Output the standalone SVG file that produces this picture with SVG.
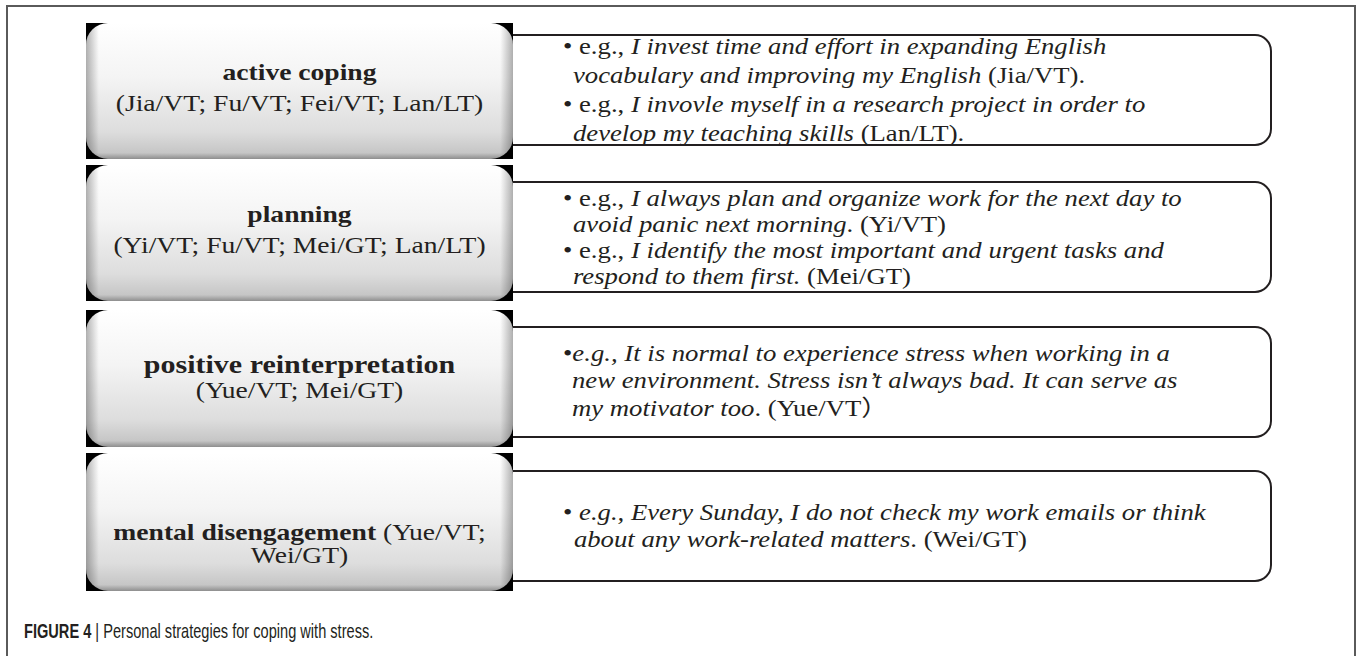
<svg xmlns="http://www.w3.org/2000/svg" width="1357" height="656" viewBox="0 0 1357 656">
<style>
 .frame{fill:none;stroke:#5a5a5a;stroke-width:2}
 .back{fill:#000}
 .lbox{fill:url(#gv)}
 .ledge{fill:url(#gh)}
 .rbox{fill:#fff;stroke:#231f20;stroke-width:2}
 .t{font-family:"Liberation Serif","Times New Roman","Noto Sans CJK SC",serif;fill:#231f20}
 .lt{font-size:23px}
 .rt{font-size:22.5px}
 .b{font-weight:bold}
 .i{font-style:italic}
 .cap{font-family:"Liberation Sans",Arial,sans-serif;font-size:20px;fill:#231f20}
</style>
<defs>
 <linearGradient id="gv" x1="0" y1="0" x2="0" y2="1">
  <stop offset="0" stop-color="#ffffff"/>
  <stop offset="0.4" stop-color="#f4f4f4"/>
  <stop offset="0.8" stop-color="#dddddd"/>
  <stop offset="0.955" stop-color="#c6c6c6"/>
  <stop offset="1" stop-color="#8e8e8e"/>
 </linearGradient>
 <linearGradient id="gh" x1="0" y1="0" x2="1" y2="0">
  <stop offset="0" stop-color="#000" stop-opacity="0.3"/>
  <stop offset="0.03" stop-color="#000" stop-opacity="0"/>
  <stop offset="0.97" stop-color="#000" stop-opacity="0"/>
  <stop offset="1" stop-color="#000" stop-opacity="0.3"/>
 </linearGradient>
</defs>
<rect class="frame" x="7" y="6" width="1348" height="700"/>
<g id="connectors"/>
<g id="r1">
 <rect class="rbox" x="470" y="35" width="801" height="110" rx="16"/>
 <g transform="translate(563,0) scale(1.187,1)">
  <text class="t rt" x="0" y="54">• e.g., <tspan class="i">I invest time and effort in expanding English</tspan></text>
  <text class="t rt" x="8.4" y="83"><tspan class="i">vocabulary and improving my English</tspan> (Jia/VT).</text>
  <text class="t rt" x="0" y="112">• e.g., <tspan class="i">I invovle myself in a research project in order to</tspan></text>
  <text class="t rt" x="8.4" y="141"><tspan class="i">develop my teaching skills</tspan> (Lan/LT).</text>
 </g>
</g>
<g id="r2">
 <rect class="rbox" x="470" y="182" width="801" height="110" rx="16"/>
 <g transform="translate(563,0) scale(1.187,1)">
  <text class="t rt" x="0" y="206">• e.g., <tspan class="i">I always plan and organize work for the next day to</tspan></text>
  <text class="t rt" x="8.4" y="232"><tspan class="i">avoid panic next morning</tspan>. (Yi/VT)</text>
  <text class="t rt" x="0" y="258">• e.g., <tspan class="i">I identify the most important and urgent tasks and</tspan></text>
  <text class="t rt" x="8.4" y="284"><tspan class="i">respond to them first.</tspan> (Mei/GT)</text>
 </g>
</g>
<g id="r3">
 <rect class="rbox" x="470" y="327" width="801" height="110" rx="16"/>
 <g transform="translate(563,0) scale(1.187,1)">
  <text class="t rt" x="0" y="361">•<tspan class="i">e.g., It is normal to experience stress when working in a</tspan></text>
  <text class="t rt" x="7.6" y="388"><tspan class="i">new environment. Stress isn’t always bad. It can serve as</tspan></text>
  <text class="t rt" x="7.6" y="416"><tspan class="i">my motivator too</tspan>. (Yue/VT）</text>
 </g>
</g>
<g id="r4">
 <rect class="rbox" x="470" y="471" width="801" height="110" rx="16"/>
 <g transform="translate(563,0) scale(1.187,1)">
  <text class="t rt" x="0" y="520">• <tspan class="i">e.g., Every Sunday, I do not check my work emails or think</tspan></text>
  <text class="t rt" x="9.2" y="547"><tspan class="i">about any work-related matters</tspan>. (Wei/GT)</text>
 </g>
</g>
<g id="n1">
 <rect class="back" x="86" y="23" width="427" height="136"/>
 <rect class="lbox" x="86" y="23" width="427" height="136" rx="22"/>
 <rect class="ledge" x="86" y="23" width="427" height="136" rx="22"/>
 <g transform="translate(299.5,0) scale(1.2,1)">
  <text class="t lt b" x="0" y="80" text-anchor="middle">active coping</text>
  <text class="t lt" x="0" y="111" text-anchor="middle">(Jia/VT; Fu/VT; Fei/VT; Lan/LT)</text>
 </g>
</g>
<g id="n2">
 <rect class="back" x="86" y="165" width="427" height="136"/>
 <rect class="lbox" x="86" y="165" width="427" height="136" rx="22"/>
 <rect class="ledge" x="86" y="165" width="427" height="136" rx="22"/>
 <g transform="translate(299.5,0) scale(1.2,1)">
  <text class="t lt b" x="0" y="222" text-anchor="middle">planning</text>
  <text class="t lt" x="0" y="253" text-anchor="middle">(Yi/VT; Fu/VT; Mei/GT; Lan/LT)</text>
 </g>
</g>
<g id="n3">
 <rect class="back" x="86" y="310" width="427" height="137"/>
 <rect class="lbox" x="86" y="310" width="427" height="137" rx="22"/>
 <rect class="ledge" x="86" y="310" width="427" height="137" rx="22"/>
 <g transform="translate(299.5,0) scale(1.2,1)">
  <text class="t b" x="0" y="373" text-anchor="middle" font-size="25">positive reinterpretation</text>
  <text class="t lt" x="0" y="398" text-anchor="middle">(Yue/VT; Mei/GT)</text>
 </g>
</g>
<g id="n4">
 <rect class="back" x="86" y="453" width="427" height="138"/>
 <rect class="lbox" x="86" y="453" width="427" height="138" rx="22"/>
 <rect class="ledge" x="86" y="453" width="427" height="138" rx="22"/>
 <g transform="translate(299.5,0) scale(1.2,1)">
  <text class="t lt" x="0" y="540" text-anchor="middle"><tspan class="b">mental disengagement</tspan> (Yue/VT;</text>
  <text class="t lt" x="0" y="563" text-anchor="middle">Wei/GT)</text>
 </g>
</g>
<g id="caption" transform="translate(24,638) scale(0.73,1)">
 <text class="cap" x="0" y="0"><tspan font-weight="bold">FIGURE 4</tspan> | Personal strategies for coping with stress.</text>
</g>
</svg>
